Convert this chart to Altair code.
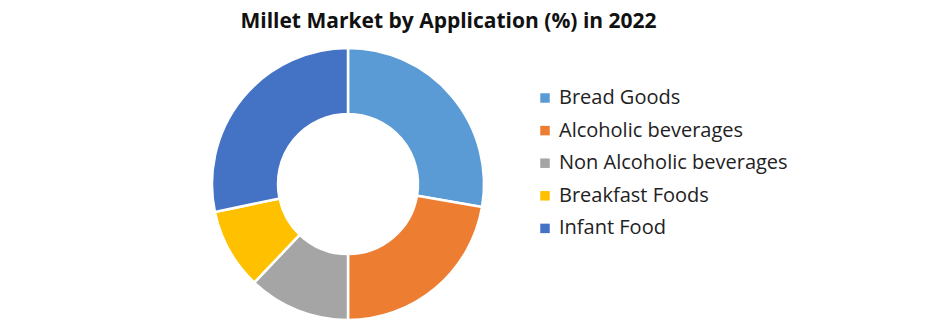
import altair as alt
import pandas as pd

categories = ["Bread Goods", "Alcoholic beverages", "Non Alcoholic beverages", "Breakfast Foods", "Infant Food"]
shares = [27.7, 22.3, 12.1, 9.6, 28.3]
colors = ["#5B9BD5", "#ED7D31", "#A5A5A5", "#FFC000", "#4472C4"]

df = pd.DataFrame({"category": categories, "share": shares, "idx": list(range(len(categories)))})

chart = alt.Chart(df).mark_arc(
    outerRadius=136, innerRadius=70, stroke="white", strokeWidth=2.5
).encode(
    theta=alt.Theta("share:Q", stack=True),
    order=alt.Order("idx:Q"),
    color=alt.Color(
        "category:N",
        sort=categories,
        scale=alt.Scale(domain=categories, range=colors),
        legend=alt.Legend(
            title=None,
            orient="none",
            legendX=535,
            legendY=88,
            symbolType="square",
            symbolSize=90,
            symbolStrokeWidth=0,
            labelFont="Open Sans",
            labelFontSize=20,
            labelColor="#222222",
            labelLimit=400,
            rowPadding=12.6,
            labelOffset=4,
        ),
    ),
    x=alt.value(348),
    y=alt.value(184),
).properties(
    width=941,
    height=324,
    autosize=alt.AutoSizeParams(type="none"),
    padding=0,
    title=alt.TitleParams(
        "Millet Market by Application (%) in 2022",
        font="Open Sans",
        fontSize=21,
        fontWeight="bold",
        color="#111111",
        anchor="middle",
        dx=-22,
        offset=-32,
    ),
).configure_view(stroke=None)

chart.save("out.html", embed_options={"renderer": "svg", "actions": False})
